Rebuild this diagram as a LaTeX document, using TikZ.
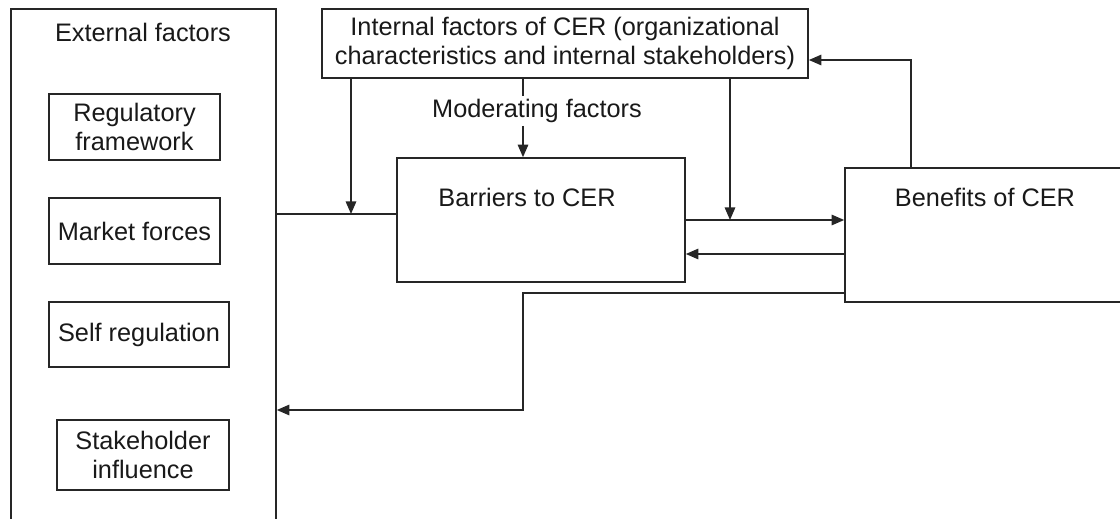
\documentclass[tikz,border=0pt]{standalone}
\usepackage{fontspec}
\setmainfont{Liberation Sans}
\usetikzlibrary{positioning,calc,arrows.meta}
\tikzset{fbox/.style={draw=black!85, line width=1.1pt, inner sep=0pt}}
\tikzset{ftxt/.style={inner sep=0pt, align=center, text=black!90, font=\fontsize{18}{20}\selectfont}}
\tikzset{ln/.style={draw=black!85, line width=1.1pt}}
\tikzset{arr/.style={ln, -{Triangle[length=9pt,width=7.5pt]}}}

\begin{document}
\begin{tikzpicture}[x=0.025cm, y=-0.025cm]
	\useasboundingbox (0,0) rectangle (1120,519);
	% external factors, runs past the lower edge
	\node[fbox, minimum width=6.625cm, minimum height=13.275cm] (ext) at (143.5,274.5) {};
	\node[ftxt] (exttxt) at (143,32) {External factors};
	\node[fbox, ftxt, minimum width=4.275cm, minimum height=1.65cm] (reg) at (134.5,127) {Regulatory\\framework};
	\node[fbox, ftxt, minimum width=4.275cm, minimum height=1.65cm] (mkt) at (134.5,231) {Market forces};
	\node[fbox, ftxt, minimum width=4.5cm, minimum height=1.625cm] (selfr) at (139,334.5) {Self regulation};
	\node[fbox, ftxt, minimum width=4.3cm, minimum height=1.75cm] (stk) at (143,455) {Stakeholder\\influence};
	%
	\node[fbox, ftxt, minimum width=12.15cm, minimum height=1.725cm] (intf) at (565,43.5)
		{Internal factors of CER (organizational\\characteristics and internal stakeholders)};
	\node[ftxt, fill=white, inner sep=2pt] (modtxt) at (537,111) {Moderating factors};
	%
	\node[fbox, minimum width=7.2cm, minimum height=3.1cm] (barr) at (541,220) {};
	\node[ftxt] (barrtxt) at (527,197) {Barriers to CER};
	\node[fbox, minimum width=7.375cm, minimum height=3.35cm] (ben) at (992.5,235) {};
	\node[ftxt] (bentxt) at (985,197) {Benefits of CER};
	%
	\coordinate (j1) at (351,214);
	\coordinate (j2) at (730,220);
	\coordinate (m1) at (523,0);
	%
	\draw[ln] (ext.east |- j1) -- (barr.west |- j1);
	\draw[arr] (intf.south -| j1) -- (j1);
	\draw[ln] (intf.south -| m1) -- (m1 |- modtxt.north);
	\draw[arr] (m1 |- modtxt.south) -- (barr.north -| m1);
	%
	\draw[arr] (barr.east |- j2) -- (ben.west |- j2);
	\draw[arr] (intf.south -| j2) -- (j2);
	\draw[arr] (ben.west |- 0,254) -- (barr.east |- 0,254);
	\draw[arr] (ben.north -| 911,0) |- (intf.east |- 0,60);
	\draw[arr] (ben.west |- 0,293) -- (523,293) -- (523,410) -- (ext.east |- 0,410);
\end{tikzpicture}
\end{document}
